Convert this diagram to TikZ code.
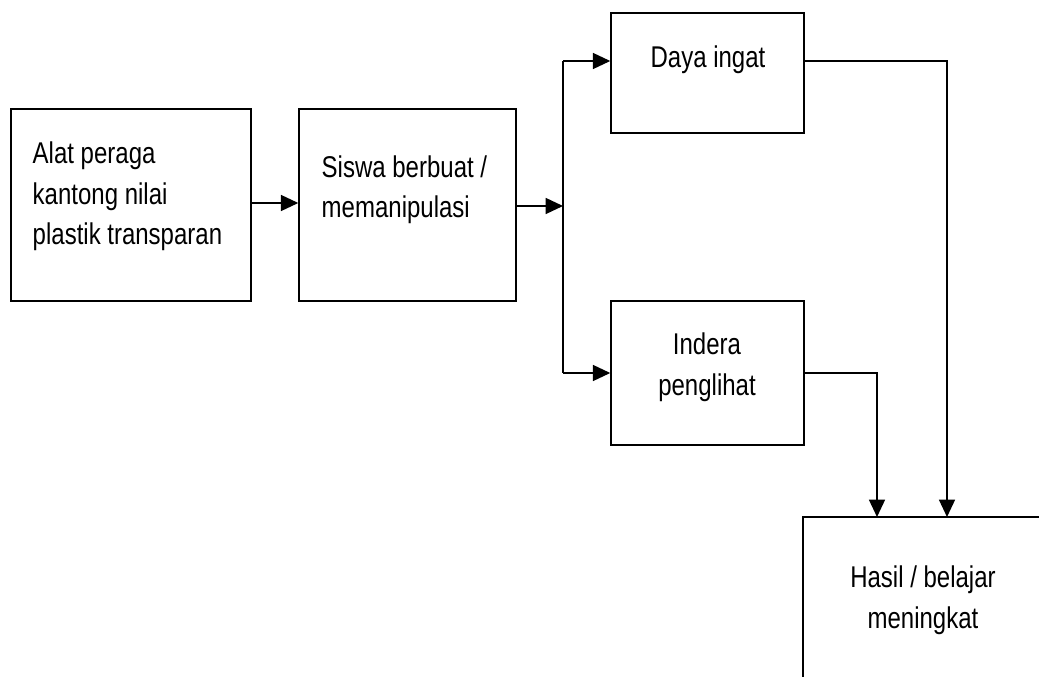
\documentclass[tikz,border=0pt]{standalone}
\usepackage{fontspec}
\setmainfont[FakeStretch=0.8]{Liberation Sans}
\usetikzlibrary{arrows.meta, fit}

\begin{document}
\begin{tikzpicture}[x=0.75pt, y=-0.75pt, line width=1.1pt,
  box/.style={draw, rectangle, inner sep=0pt},
  txt/.style={font=\fontsize{22.5}{30.5}\selectfont, inner sep=0pt},
  arr/.style={-{Triangle[length=13pt, width=12pt]}}]

\clip (0,0) rectangle (1039,677);

% boxes
\node[box, fit={(11,109) (251,301)}] (alat) {};
\node[box, fit={(299,109) (516,301)}] (siswa) {};
\node[box, fit={(611,13) (804,133)}] (daya) {};
\node[box, fit={(611,301) (804,445)}] (indera) {};
\node[box, fit={(803,517) (1080,720)}] (hasil) {};

% texts (base anchor = last line)
\node[txt, anchor=base west, align=left] (talat) at (32,245) {Alat peraga\\kantong nilai\\plastik transparan};
\node[txt, anchor=base west, align=left] (tsiswa) at (321,218) {Siswa berbuat /\\memanipulasi};
\node[txt, anchor=base] (tdaya) at (708,68) {Daya ingat};
\node[txt, anchor=base, align=center] (tindera) at (707,395) {Indera\\penglihat};
\node[txt, anchor=base, align=center] (thasil) at (923,628) {Hasil / belajar\\meningkat};

% branch points
\coordinate (split) at (563,206);
\coordinate (up) at (563,61);
\coordinate (dn) at (563,373);
\coordinate (in1) at (877,517);
\coordinate (in2) at (947,517);

\draw[arr] (alat.east |- 0,203) -- (siswa.west |- 0,203);
\draw[arr] (siswa.east |- split) -- (split);
\draw (up) -- (dn);
\draw[arr] (up) -- (daya.west |- up);
\draw[arr] (dn) -- (indera.west |- dn);
\draw[arr] (daya.east |- up) -| (in2);
\draw[arr] (indera.east |- dn) -| (in1);
\end{tikzpicture}
\end{document}
